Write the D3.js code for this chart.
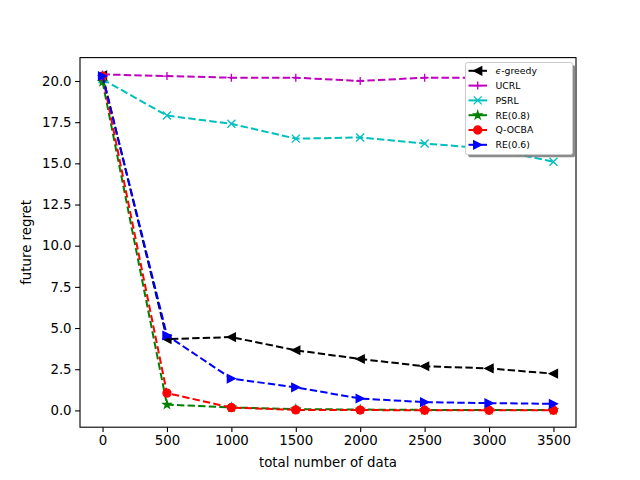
<!DOCTYPE html>
<html><head><meta charset="utf-8">
<script src="https://cdn.jsdelivr.net/npm/d3@7"></script>
<style>body{margin:0;background:#fff}svg{display:block}text{font-family:"DejaVu Sans",sans-serif}</style>
</head><body><div id="c"></div>
<script>
const xValues = [0, 500, 1000, 1500, 2000, 2500, 3000, 3500];
const seriesNames = ["ε-greedy", "UCRL", "PSRL", "RE(0.8)", "Q-OCBA", "RE(0.6)"];
const epsGreedy = [20.35, 4.33, 4.45, 3.65, 3.12, 2.68, 2.55, 2.23];
const ucrl      = [20.4, 20.3, 20.2, 20.2, 20.0, 20.2, 20.2, 20.2];
const psrl      = [20.1, 17.9, 17.4, 16.5, 16.57, 16.2, 15.9, 15.1];
const re08      = [19.95, 0.35, 0.18, 0.08, 0.05, 0.03, 0.02, 0.02];
const qocba     = [20.3, 1.05, 0.17, 0.03, 0.02, 0.01, 0.01, 0.01];
const re06      = [20.3, 4.55, 1.93, 1.4, 0.72, 0.5, 0.44, 0.4];
const xTicks = [0, 500, 1000, 1500, 2000, 2500, 3000, 3500];
const yTicks = [0, 2.5, 5, 7.5, 10, 12.5, 15, 17.5, 20];

const W = 640, H = 480;
const L = 80, R = 576, T = 57.6, B = 427.2;
const svg = d3.select("#c").append("svg").attr("width", W).attr("height", H);

const x = d3.scaleLinear().domain([-175, 3675]).range([L, R]);
const y = d3.scaleLinear().domain([-1.02, 21.42]).range([B, T]);

const series = [
  {name: seriesNames[0], vals: epsGreedy, color: "#000000", marker: "tl"},
  {name: seriesNames[1], vals: ucrl, color: "#bf00bf", marker: "plus"},
  {name: seriesNames[2], vals: psrl, color: "#00bfbf", marker: "x"},
  {name: seriesNames[3], vals: re08, color: "#008000", marker: "star"},
  {name: seriesNames[4], vals: qocba, color: "#ff0000", marker: "circle"},
  {name: seriesNames[5], vals: re06, color: "#0000ff", marker: "tr"}
];

function markerPath(type) {
  const s = 4; // half size in px (markersize 6pt)
  switch (type) {
    case "tl": return `M${-s},0L${s},${-s}L${s},${s}Z`;
    case "tr": return `M${s},0L${-s},${-s}L${-s},${s}Z`;
    case "plus": return `M${-s},0L${s},0M0,${-s}L0,${s}`;
    case "x": return `M${-s},${-s}L${s},${s}M${-s},${s}L${s},${-s}`;
    case "circle": return `M${s},0A${s},${s} 0 1,1 ${-s},0A${s},${s} 0 1,1 ${s},0Z`;
    case "star": {
      let p = [];
      for (let i = 0; i < 10; i++) {
        const r = i % 2 === 0 ? s : s * 0.381966;
        const a = -Math.PI / 2 + i * Math.PI / 5;
        p.push([r * Math.cos(a), r * Math.sin(a)]);
      }
      return "M" + p.map(q => q[0].toFixed(2) + "," + q[1].toFixed(2)).join("L") + "Z";
    }
  }
}
function drawMarker(g, type, color, cx, cy) {
  const filled = !(type === "plus" || type === "x");
  g.append("path").attr("d", markerPath(type))
    .attr("transform", `translate(${cx},${cy})`)
    .attr("fill", filled ? color : "none")
    .attr("stroke", color).attr("stroke-width", filled ? 1.33 : 1.33)
    .attr("stroke-linejoin", "miter");
}

const plot = svg.append("g");
const line = d3.line().x((d, i) => x(xValues[i])).y(d => y(d));
series.forEach(s => {
  plot.append("path").attr("d", line(s.vals)).attr("fill", "none")
    .attr("stroke", s.color).attr("stroke-width", 2)
    .attr("stroke-dasharray", "7.4,3.2");
  s.vals.forEach((v, i) => drawMarker(plot, s.marker, s.color, x(xValues[i]), y(v)));
});

// axes frame
svg.append("rect").attr("x", L).attr("y", T).attr("width", R - L).attr("height", B - T)
  .attr("fill", "none").attr("stroke", "#000").attr("stroke-width", 1.1);

const xAxis = d3.axisBottom(x).tickValues(xTicks).tickSize(4.9).tickPadding(3.5).tickFormat(d3.format("d"));
const gx = svg.append("g").attr("transform", `translate(0,${B})`).call(xAxis);
const yAxis = d3.axisLeft(y).tickValues(yTicks).tickSize(4.9).tickPadding(3.5).tickFormat(d3.format(".1f"));
const gy = svg.append("g").attr("transform", `translate(${L},0)`).call(yAxis);
[gx, gy].forEach(g => {
  g.select(".domain").remove();
  g.selectAll(".tick line").attr("stroke", "#000").attr("stroke-width", 1.1);
  g.selectAll(".tick text").attr("fill", "#000").style("font-size", "13.33px")
    .style("font-family", "DejaVu Sans");
});

svg.append("text").attr("x", (L + R) / 2).attr("y", 467).attr("text-anchor", "middle")
  .style("font-size", "13.33px").text("total number of data");
svg.append("text").attr("transform", `translate(31,${(T + B) / 2}) rotate(-90)`)
  .attr("text-anchor", "middle").style("font-size", "13.33px").text("future regret");

// legend
const lg = svg.append("g");
const lx = 465.5, ly = 62.5, lw = 107, lh = 92;
lg.append("rect").attr("x", lx + 2.7).attr("y", ly + 2.7).attr("width", lw).attr("height", lh)
  .attr("rx", 2).attr("fill", "#808080").attr("opacity", 0.9);
lg.append("rect").attr("x", lx).attr("y", ly).attr("width", lw).attr("height", lh)
  .attr("rx", 2).attr("fill", "#fff").attr("stroke", "#cccccc").attr("stroke-width", 1);
series.forEach((s, i) => {
  const cy = 70.8 + i * 14.8;
  lg.append("line").attr("x1", 468.5).attr("x2", 487).attr("y1", cy).attr("y2", cy)
    .attr("stroke", s.color).attr("stroke-width", 2);
  drawMarker(lg, s.marker, s.color, 477.7, cy);
  const t = lg.append("text").attr("x", 495.5).attr("y", cy + 3.4).style("font-size", "9.3px");
  if (i === 0) {
    t.append("tspan").style("font-style", "italic").text("ϵ");
    t.append("tspan").text("-greedy");
  } else t.text(s.name);
});
</script></body></html>
